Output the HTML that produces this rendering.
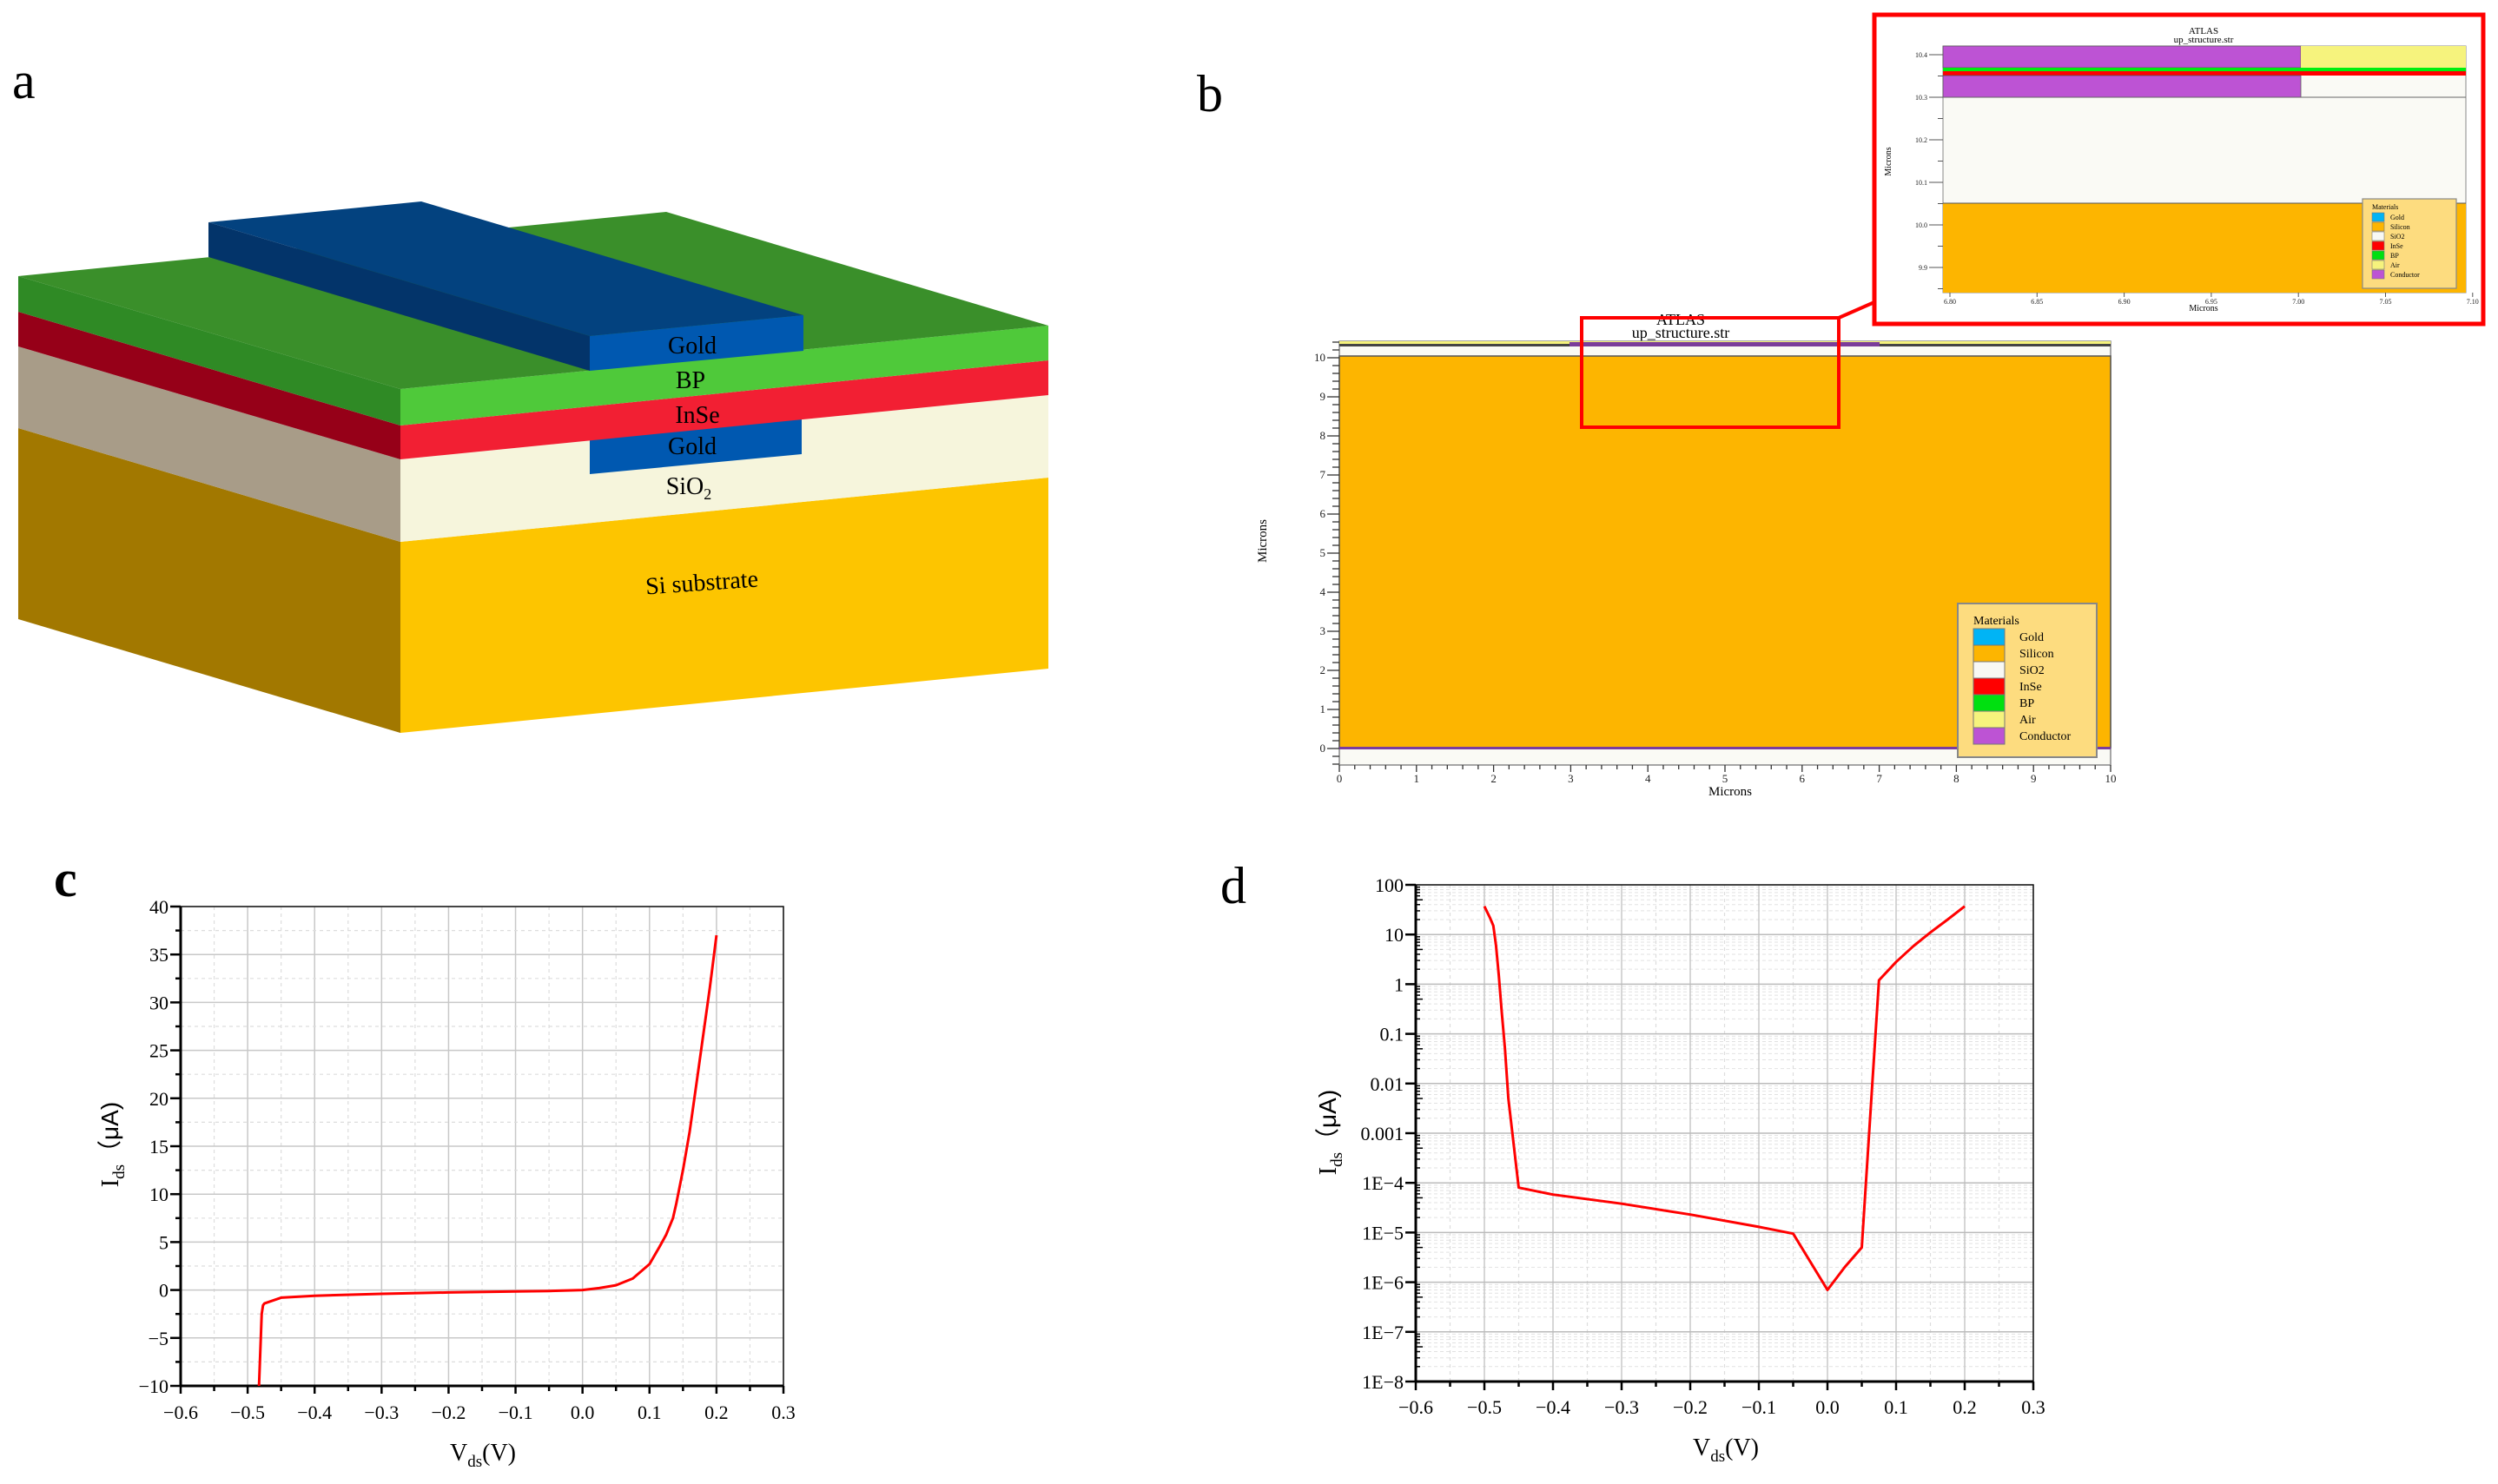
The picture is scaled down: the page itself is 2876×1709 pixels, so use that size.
<!DOCTYPE html>
<html><head><meta charset="utf-8"><style>
html,body{margin:0;padding:0;background:#fff;}
svg{display:block;}
text{font-family:"Liberation Serif",serif;}
</style></head><body>
<svg id="fig" width="2876" height="1709" viewBox="0 0 2876 1709" xmlns="http://www.w3.org/2000/svg">
<rect width="2876" height="1709" fill="#fff"/>
<text x="14" y="113" font-size="60">a</text>
<text x="1378" y="128" font-size="60">b</text>
<text x="62" y="1032" font-size="60" font-weight="bold">c</text>
<text x="1405" y="1040" font-size="60">d</text>

<g>
  <polygon points="21,493 461,624 461,844 21,713" fill="#a27800"/>
  <polygon points="461,624 1207,550 1207,770 461,844" fill="#fdc500"/>
  <polygon points="21,399 461,529 461,624 21,493" fill="#a89c88"/>
  <polygon points="461,529 1207,455 1207,550 461,624" fill="#f6f5dc"/>
  <polygon points="679,482 923,458 923,523 679,546" fill="#0058b0"/>
  <polygon points="21,359 461,490 461,529 21,399" fill="#960018"/>
  <polygon points="461,490 1207,415 1207,455 461,529" fill="#f21f33"/>
  <polygon points="21,318 461,448 461,490 21,359" fill="#2f8a25"/>
  <polygon points="461,448 1207,375 1207,415 461,490" fill="#4fc93a"/>
  <polygon points="21,318 767,244 1207,375 461,448" fill="#3a8f2a"/>
  <polygon points="240,256 485,232 925,363 679,387" fill="#03427f"/>
  <polygon points="240,256 679,387 679,427 240,296" fill="#03346a"/>
  <polygon points="679,387 925,363 925,404 679,427" fill="#0058b0"/>
  <g font-size="28" text-anchor="middle">
    <text x="797" y="407">Gold</text>
    <text x="795" y="447">BP</text>
    <text x="803" y="487">InSe</text>
    <text x="797" y="523">Gold</text>
    <text x="793" y="569">SiO<tspan font-size="18" dy="6">2</tspan></text>
    <text x="808" y="680" transform="rotate(-4 808 670)">Si substrate</text>
  </g>
</g>

<g>
  <text x="1935" y="374" font-size="18" text-anchor="middle">ATLAS</text>
  <text x="1935" y="389" font-size="18" text-anchor="middle">up_structure.str</text>
  <rect x="1542" y="393" width="888" height="488" fill="#fafaf5" stroke="#888" stroke-width="1.5"/>
  <rect x="1542" y="393" width="888" height="3" fill="#f5f27a"/>
  <rect x="1542" y="396" width="888" height="3" fill="#444"/>
  <rect x="1807" y="394" width="357" height="5" fill="#7a3c9a"/>
  <rect x="1542" y="410" width="888" height="451" fill="#fdb500" stroke="#555" stroke-width="1.5"/>
  <rect x="1542" y="860" width="888" height="3" fill="#7b3ca0"/>
  <g id="bTicks" stroke="#333" stroke-width="1.3"></g>
  <g id="bLabels" font-size="13" fill="#222"></g>
  <text x="1992" y="916" font-size="15" text-anchor="middle">Microns</text>
  <text x="1458" y="623" font-size="15" text-anchor="middle" transform="rotate(-90 1458 623)">Microns</text>
  <g>
    <rect x="2254" y="695" width="160" height="177" fill="#fddc7f" stroke="#888" stroke-width="2"/>
    <text x="2272" y="719" font-size="14">Materials</text>
    <g id="bLegend"></g>
  </g>
  <rect x="1821" y="366" width="296" height="126" fill="none" stroke="#f00" stroke-width="4"/>
  <line x1="2117" y1="366" x2="2158" y2="348" stroke="#f00" stroke-width="4"/>
</g>

<g>
  <rect x="2158" y="17" width="701" height="356" fill="#fff" stroke="#f00" stroke-width="5"/>
  <text x="2537" y="39" font-size="11" text-anchor="middle">ATLAS</text>
  <text x="2537" y="49" font-size="11" text-anchor="middle">up_structure.str</text>
  <rect x="2237" y="53" width="602" height="284" fill="#fafaf5" stroke="#888" stroke-width="1"/>
  <rect x="2237" y="53" width="412" height="25" fill="#bd53d4" stroke="#555" stroke-width="0.8"/>
  <rect x="2649" y="53" width="190" height="25" fill="#f6f37d"/>
  <rect x="2237" y="78" width="602" height="4" fill="#00ee10"/>
  <rect x="2237" y="82" width="602" height="5" fill="#ff0000"/>
  <rect x="2237" y="87" width="412" height="25" fill="#bd53d4" stroke="#555" stroke-width="0.8"/>
  <line x1="2237" y1="112" x2="2839" y2="112" stroke="#666"/>
  <rect x="2237" y="234" width="602" height="103" fill="#fdb500"/>
  <line x1="2237" y1="234" x2="2839" y2="234" stroke="#555"/>
  <g id="iTicks" stroke="#555" stroke-width="1"></g>
  <g id="iLabels" font-size="8" fill="#222"></g>
  <text x="2537" y="358" font-size="10" text-anchor="middle">Microns</text>
  <text x="2177" y="186" font-size="10" text-anchor="middle" transform="rotate(-90 2177 186)">Microns</text>
  <rect x="2720" y="229" width="108" height="103" fill="#fddc7f" stroke="#888" stroke-width="1.2"/>
  <text x="2731" y="241" font-size="8">Materials</text>
  <g id="iLegend"></g>
</g>

<g id="chartC"></g>
<g id="chartD"></g>
</svg>
<script>
const NS="http://www.w3.org/2000/svg";
function mk(tag,attrs,parent,txt){const e=document.createElementNS(NS,tag);for(const k in attrs)e.setAttribute(k,attrs[k]);if(txt!==undefined)e.textContent=txt;parent.appendChild(e);return e;}
const MINUS="\u2212";
function fmt(v,d){const s=Math.abs(v).toFixed(d);return (v<-1e-9?MINUS:"")+s;}

const bXTicks=[0,1,2,3,4,5,6,7,8,9,10];
const bYTicks=[0,1,2,3,4,5,6,7,8,9,10];
const materialNames=["Gold","Silicon","SiO2","InSe","BP","Air","Conductor"];
const materialColors=["#00b4f5","#fdb500","#f8f8f4","#ff0000","#00e010","#f6f37d","#bd53d4"];
const insetXTicks=["6.80","6.85","6.90","6.95","7.00","7.05","7.10"];
const insetYTicks=["10.4","10.3","10.2","10.1","10.0","9.9"];

(function(){
  const bx=v=>1542+v*88.8, by=v=>862-v*45;
  const tk=document.getElementById('bTicks'), lb=document.getElementById('bLabels');
  for(let i=0;i<=50;i++){const v=i/5;const maj=i%5===0;
    mk('line',{x1:bx(v),y1:881,x2:bx(v),y2:881+(maj?8:5)},tk);
  }
  for(let i=-2;i<=52;i++){const v=i/5;const maj=i%5===0;
    if(by(v)<393||by(v)>881)continue;
    mk('line',{x1:1542-(maj?14:8),y1:by(v),x2:1542,y2:by(v)},tk);
  }
  bXTicks.forEach(v=>{const t=mk('text',{x:bx(v),y:901,'text-anchor':'middle'},lb,String(v));

});
  bYTicks.forEach(v=>{const t=mk('text',{x:1526,y:by(v)+4,'text-anchor':'end'},lb,String(v));

});
  const lg=document.getElementById('bLegend');
  materialNames.forEach((n,i)=>{
    const r=mk('rect',{x:2272,y:724+i*19,width:36,height:19,fill:materialColors[i],stroke:'#777','stroke-width':1},lg);
    
    
    const t=mk('text',{x:2325,y:738+i*19,'font-size':14},lg,n);
    
    
  });
  const il=document.getElementById('iLegend');
  materialNames.forEach((n,i)=>{
    mk('rect',{x:2731,y:245+i*11,width:14,height:10,fill:materialColors[i],stroke:'#777','stroke-width':0.6},il);
    const t=mk('text',{x:2752,y:253+i*11,'font-size':8},il,n);
    
    
  });
  const it=document.getElementById('iTicks'), ilb=document.getElementById('iLabels');
  const ix=i=>2237+i*100.3;
  insetXTicks.forEach((s,i)=>{mk('line',{x1:ix(i)+8,y1:337,x2:ix(i)+8,y2:342},it);
    mk('text',{x:ix(i)+8,y:350,'text-anchor':'middle'},ilb,s);});
  const iy=i=>63+i*49;
  for(let k=-1;k<=11;k++){const y=63+k*24.5;if(y<53||y>337)continue;mk('line',{x1:2237-(k%2===0?16:6),y1:y,x2:2237,y2:y},it);}
  insetYTicks.forEach((s,i)=>{mk('text',{x:2219,y:iy(i)+3,'text-anchor':'end'},ilb,s);});
})();

const cXTicks=[-0.6,-0.5,-0.4,-0.3,-0.2,-0.1,0.0,0.1,0.2,0.3];
const cYTicks=[-10,-5,0,5,10,15,20,25,30,35,40];
const cVds=[-0.483,-0.479,-0.477,-0.475,-0.45,-0.4,-0.3,-0.2,-0.1,-0.05,0,0.025,0.05,0.075,0.1,0.115,0.125,0.135,0.14,0.15,0.16,0.17,0.18,0.19,0.2];
const cIds=[-10,-2.5,-1.6,-1.4,-0.8,-0.6,-0.4,-0.25,-0.15,-0.1,0,0.2,0.5,1.2,2.7,4.5,5.8,7.5,9,12.5,16.5,21.5,26.5,31.5,37];

(function(){
  const g=document.getElementById('chartC');
  const L=208,R=902,T=1044,B=1596;
  const x=v=>L+(v+0.6)/0.9*(R-L), y=v=>B-(v+10)/50*(B-T);
  for(let i=0;i<=18;i++){const v=-0.6+i*0.05;const maj=i%2===0;
    mk('line',{x1:x(v),y1:T,x2:x(v),y2:B,stroke:maj?'#c8c8c8':'#ddd','stroke-width':maj?1.5:1.2,'stroke-dasharray':maj?'':'4,4'},g);}
  for(let i=0;i<=20;i++){const v=-10+i*2.5;const maj=i%2===0;
    mk('line',{x1:L,y1:y(v),x2:R,y2:y(v),stroke:maj?'#c8c8c8':'#ddd','stroke-width':maj?1.5:1.2,'stroke-dasharray':maj?'':'4,4'},g);}
  mk('rect',{x:L,y:T,width:R-L,height:B-T,fill:'none',stroke:'#111','stroke-width':1.5},g);
  mk('line',{x1:L,y1:T,x2:L,y2:B,stroke:'#000','stroke-width':3},g);
  mk('line',{x1:L,y1:B,x2:R,y2:B,stroke:'#000','stroke-width':3},g);
  for(let i=0;i<=18;i++){const v=-0.6+i*0.05;const maj=i%2===0;
    mk('line',{x1:x(v),y1:B,x2:x(v),y2:B+(maj?9:6),stroke:'#000','stroke-width':2.5},g);}
  for(let i=0;i<=20;i++){const v=-10+i*2.5;const maj=i%2===0;
    mk('line',{x1:L-(maj?12:6),y1:y(v),x2:L,y2:y(v),stroke:'#000','stroke-width':2.5},g);}
  cXTicks.forEach(v=>{const t=mk('text',{x:x(v),y:1634,'font-size':22,'text-anchor':'middle'},g,fmt(v,1));

});
  cYTicks.forEach(v=>{const t=mk('text',{x:L-14,y:y(v)+8,'font-size':22,'text-anchor':'end'},g,fmt(v,0));

});
  const xt=mk('text',{x:556,y:1682,'font-size':28,'text-anchor':'middle'},g);
  
  
  xt.innerHTML='V<tspan font-size="19" dy="7">ds</tspan><tspan dy="-7">(V)</tspan>';
  const yt=mk('text',{x:136,y:1318,'font-size':28,'text-anchor':'middle',transform:'rotate(-90 136 1318)'},g);
  
  
  yt.innerHTML='I<tspan font-size="19" dy="7">ds</tspan><tspan dy="-7" font-family="Liberation Sans, sans-serif">（μA)</tspan>';
  const pts=cVds.map((v,i)=>x(v).toFixed(1)+','+y(cIds[i]).toFixed(1)).join(' ');
  const pl=mk('polyline',{points:pts,fill:'none',stroke:'#f00','stroke-width':3,'stroke-linejoin':'round'},g);
  
  
})();

const dXTicks=[-0.6,-0.5,-0.4,-0.3,-0.2,-0.1,0.0,0.1,0.2,0.3];
const dYTickLabels=["1E"+MINUS+"8","1E"+MINUS+"7","1E"+MINUS+"6","1E"+MINUS+"5","1E"+MINUS+"4","0.001","0.01","0.1","1","10","100"];
const dYTickValues=[1e-8,1e-7,1e-6,1e-5,1e-4,1e-3,1e-2,0.1,1,10,100];
const dVds=[-0.5,-0.492,-0.487,-0.483,-0.479,-0.475,-0.47,-0.465,-0.45,-0.4,-0.3,-0.2,-0.1,-0.05,0,0.025,0.05,0.075,0.1,0.125,0.15,0.175,0.2];
const dIds=[37,22,15,6,1.5,0.3,0.05,0.005,8e-5,5.8e-5,3.8e-5,2.3e-5,1.3e-5,9.5e-6,7e-7,2e-6,5e-6,1.2,2.8,5.8,11,20,37];

(function(){
  const g=document.getElementById('chartD');
  const L=1630,R=2341,T=1019,B=1591;
  const x=v=>L+(v+0.6)/0.9*(R-L), y=v=>B-(Math.log10(v)+8)/10*(B-T);
  for(let d=-8;d<2;d++){for(let m=2;m<=9;m++){const yy=y(m*Math.pow(10,d));
    mk('line',{x1:L,y1:yy,x2:R,y2:yy,stroke:'#e2e2e2','stroke-width':1,'stroke-dasharray':'4,3'},g);
    mk('line',{x1:L,y1:yy,x2:L+(m===5?8:5),y2:yy,stroke:'#000','stroke-width':1.5},g);}}
  for(let i=0;i<=18;i++){const v=-0.6+i*0.05;const maj=i%2===0;
    mk('line',{x1:x(v),y1:T,x2:x(v),y2:B,stroke:maj?'#c8c8c8':'#ddd','stroke-width':maj?1.5:1.2,'stroke-dasharray':maj?'':'4,4'},g);}
  dYTickValues.forEach(v=>mk('line',{x1:L,y1:y(v),x2:R,y2:y(v),stroke:'#bbb','stroke-width':1.5},g));
  mk('rect',{x:L,y:T,width:R-L,height:B-T,fill:'none',stroke:'#111','stroke-width':1.5},g);
  mk('line',{x1:L,y1:T,x2:L,y2:B,stroke:'#000','stroke-width':3},g);
  mk('line',{x1:L,y1:B,x2:R,y2:B,stroke:'#000','stroke-width':3},g);
  for(let i=0;i<=18;i++){const v=-0.6+i*0.05;const maj=i%2===0;
    mk('line',{x1:x(v),y1:B,x2:x(v),y2:B+(maj?10:6),stroke:'#000','stroke-width':2.5},g);}
  dYTickValues.forEach(v=>mk('line',{x1:L-12,y1:y(v),x2:L,y2:y(v),stroke:'#000','stroke-width':2.5},g));
  dXTicks.forEach(v=>{const t=mk('text',{x:x(v),y:1628,'font-size':22,'text-anchor':'middle'},g,fmt(v,1));

});
  dYTickValues.forEach((v,i)=>{const t=mk('text',{x:L-14,y:y(v)+8,'font-size':22,'text-anchor':'end'},g,dYTickLabels[i]);

});
  const xt=mk('text',{x:1987,y:1676,'font-size':28,'text-anchor':'middle'},g);
  
  
  xt.innerHTML='V<tspan font-size="19" dy="7">ds</tspan><tspan dy="-7">(V)</tspan>';
  const yt=mk('text',{x:1538,y:1304,'font-size':28,'text-anchor':'middle',transform:'rotate(-90 1538 1304)'},g);
  
  
  yt.innerHTML='I<tspan font-size="19" dy="7">ds</tspan><tspan dy="-7" font-family="Liberation Sans, sans-serif">（μA)</tspan>';
  const pts=dVds.map((v,i)=>x(v).toFixed(1)+','+y(dIds[i]).toFixed(1)).join(' ');
  const pl=mk('polyline',{points:pts,fill:'none',stroke:'#f00','stroke-width':3,'stroke-linejoin':'round'},g);
  
  
})();
</script>
</body></html>
